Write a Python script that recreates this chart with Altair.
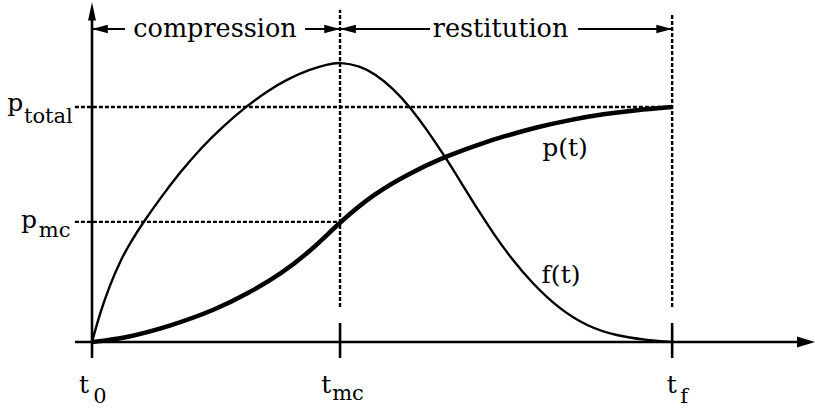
import altair as alt
import pandas as pd

# Contact force f(t): time in units of t_mc, force in units of p_total
force_t = [0.0, 0.032, 0.073, 0.113, 0.153, 0.208, 0.274, 0.355, 0.440,
           0.524, 0.625, 0.706, 0.786, 0.879, 0.948, 1.0,
           1.081, 1.141, 1.214, 1.282, 1.351, 1.423, 1.492, 1.556, 1.625,
           1.694, 1.774, 1.879, 1.996, 2.117, 2.230, 2.339]
force_v = [0.0, 0.123, 0.245, 0.343, 0.421, 0.511, 0.610, 0.722, 0.826,
           0.914, 1.005, 1.067, 1.118, 1.160, 1.181, 1.191,
           1.174, 1.140, 1.079, 1.000, 0.902, 0.789, 0.672, 0.562, 0.451,
           0.351, 0.251, 0.145, 0.066, 0.026, 0.009, 0.0]

# Accumulated impulse p(t)
imp_t = [0.0, 0.133, 0.308, 0.496, 0.630, 0.765, 0.886, 1.0, 1.134, 1.269,
         1.423, 1.565, 1.658, 1.793, 1.927, 2.062, 2.196, 2.339]
imp_v = [0.0, 0.016, 0.065, 0.136, 0.207, 0.292, 0.391, 0.511, 0.628, 0.712,
         0.789, 0.843, 0.874, 0.914, 0.945, 0.970, 0.987, 1.0]

# Key instants and impulse levels
t0, t_mc, t_f = 0.0, 1.0, 2.339
p_mc, p_total = 0.511, 1.0

# Axis extents
x_left, x_right = -0.069, 2.915
y_bottom, y_top = -0.068, 1.43
band_y = 1.332  # height of the compression / restitution span arrows

# Text labels: (text, t, v, font size)
labels = [
    ("compression", 0.496, 1.298, 25.5),
    ("restitution", 1.647, 1.298, 25.5),
    ("p(t)", 1.907, 0.791, 25),
    ("f(t)", 1.891, 0.251, 25),
    ("p", -0.310, 0.983, 25), ("total", -0.176, 0.932, 21),
    ("p", -0.254, 0.485, 25), ("mc", -0.151, 0.447, 21),
    ("t", -0.032, -0.217, 25), ("0", 0.032, -0.260, 21),
    ("t", 0.944, -0.217, 25), ("mc", 1.032, -0.247, 21),
    ("t", 2.337, -0.217, 25), ("f", 2.387, -0.260, 21),
]

SERIF = "DejaVu Serif"

xs = alt.Scale(domain=[-0.371, 2.915], nice=False, zero=False)
ys = alt.Scale(domain=[-0.285, 1.455], nice=False, zero=False)
X = lambda f: alt.X(f, type="quantitative", scale=xs, axis=None)
Y = lambda f: alt.Y(f, type="quantitative", scale=ys, axis=None)

force_df = pd.DataFrame({"t": force_t, "v": force_v})
imp_df = pd.DataFrame({"t": imp_t, "v": imp_v})
label_df = pd.DataFrame(labels, columns=["label", "t", "v", "fs"])

# Solid axes and tick marks
axes_df = pd.DataFrame([
    {"x": x_left, "x2": x_right - 0.05, "y": 0.0, "y2": 0.0},
    {"x": t0, "x2": t0, "y": y_bottom, "y2": y_top - 0.03},
    {"x": t_mc, "x2": t_mc, "y": y_bottom, "y2": 0.081},
    {"x": t_f, "x2": t_f, "y": y_bottom, "y2": 0.081},
])
axes = alt.Chart(axes_df).mark_rule(color="black", strokeWidth=2.6).encode(
    x=X("x"), x2="x2", y=Y("y"), y2="y2")

# Dashed guides
guide_df = pd.DataFrame([
    {"x": x_left, "x2": t_f, "y": p_total, "y2": p_total},
    {"x": x_left, "x2": t_mc, "y": p_mc, "y2": p_mc},
    {"x": t_mc, "x2": t_mc, "y": 0.149, "y2": 1.413},
    {"x": t_f, "x2": t_f, "y": 0.149, "y2": 1.40},
])
guides = alt.Chart(guide_df).mark_rule(
    color="black", strokeWidth=2.4, strokeDash=[4, 2]).encode(
    x=X("x"), x2="x2", y=Y("y"), y2="y2")

# Span arrows for compression and restitution phases
span_df = pd.DataFrame([
    {"x": t0, "x2": 0.133}, {"x": 0.859, "x2": t_mc},
    {"x": t_mc, "x2": 1.363}, {"x": 1.960, "x2": t_f},
])
span_df["y"] = band_y
spans = alt.Chart(span_df).mark_rule(color="black", strokeWidth=2).encode(
    x=X("x"), x2="x2", y=Y("y"))

def heads(points, shape, size):
    df = pd.DataFrame(points, columns=["x", "y"])
    return alt.Chart(df).mark_point(
        shape=shape, size=size, filled=True, color="black", opacity=1,
        strokeWidth=0).encode(x=X("x"), y=Y("y"))

right_head = "M0,0 L-1,-0.27 L-1,0.27 Z"
left_head = "M0,0 L1,-0.27 L1,0.27 Z"
heads_right = heads([(t_mc, band_y), (t_f, band_y)], right_head, 1000)
heads_left = heads([(t0, band_y), (t_mc, band_y)], left_head, 1000)
x_arrow = heads([(x_right, 0.0)], "M0,0 L-1,-0.3 L-1,0.3 Z", 1300)
y_arrow = heads([(t0, 1.445)], "M0,0 L-0.22,1 L0.22,1 Z", 1300)

force_line = alt.Chart(force_df).mark_line(
    color="black", strokeWidth=2.4, interpolate="basis").encode(
    x=X("t"), y=Y("v"), order="t:Q")
imp_line = alt.Chart(imp_df).mark_line(
    color="black", strokeWidth=4.5, interpolate="basis").encode(
    x=X("t"), y=Y("v"), order="t:Q")

texts = alt.Chart(label_df).mark_text(
    font=SERIF, baseline="alphabetic", align="center",
    color="black").encode(
    x=X("t"), y=Y("v"), text="label:N",
    size=alt.Size("fs:Q", scale=None, legend=None))

chart = alt.layer(
    guides, axes, spans, heads_right, heads_left, x_arrow, y_arrow,
    force_line, imp_line, texts
).properties(
    width=815, height=409,
    autosize=alt.AutoSizeParams(type="none"),
    padding=0, background="white",
).configure_view(stroke=None)

chart.save("out.html", embed_options={"renderer": "svg", "actions": False})
